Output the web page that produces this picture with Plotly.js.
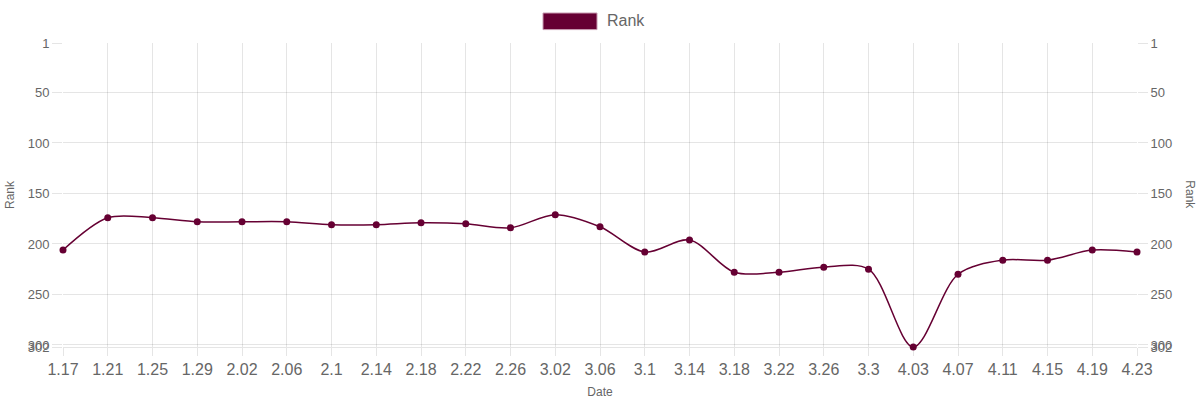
<!DOCTYPE html>
<html>
<head>
<meta charset="utf-8">
<script src="https://cdn.plot.ly/plotly-3.0.1.min.js"></script>
<style>html,body{margin:0;padding:0;background:#fff;}#chart{width:1200px;height:400px;}</style>
</head>
<body>
<div id="chart"></div>
<script>
const dates = ["1.17","1.21","1.25","1.29","2.02","2.06","2.1","2.14","2.18","2.22","2.26","3.02","3.06","3.1","3.14","3.18","3.22","3.26","3.3","4.03","4.07","4.11","4.15","4.19","4.23"];
const ranks = [206,174,174,178,178,178,181,181,179,180,184,171,183,208,196,228,228,223,225,302,230,216,216,206,208];
const rankTicks = [1,50,100,150,200,250,300,302];
const seriesName = "Rank";
const xTitle = "Date";
const yTitle = "Rank";

const lineColor = "#660033";
const fam = "Liberation Sans, Arial, sans-serif";
const tickFont = {family: fam, size: 13, color: "#666"};
const gridColor = "rgba(0,0,0,0.1)";

const trace = {
  x: dates, y: ranks, type: "scatter", mode: "lines+markers", name: seriesName,
  line: {color: lineColor, width: 1.5, shape: "spline", smoothing: 0.9},
  marker: {color: lineColor, size: 7},
  cliponaxis: false, showlegend: false
};
const trace2 = {
  x: dates, y: ranks, type: "scatter", mode: "lines", yaxis: "y2",
  line: {color: "rgba(0,0,0,0)", width: 0}, hoverinfo: "skip", showlegend: false
};

const yCommon = {
  range: [302, 1], tickvals: rankTicks, ticktext: rankTicks.map(String),
  showgrid: true, gridcolor: gridColor, gridwidth: 1, zeroline: false,
  ticks: "outside", ticklen: 10, tickcolor: gridColor, tickfont: tickFont,
  showline: false, fixedrange: true
};

const layout = {
  width: 1200, height: 400,
  margin: {l: 63, r: 63, t: 43, b: 53},
  paper_bgcolor: "#fff", plot_bgcolor: "#fff",
  font: {family: fam, color: "#666"},
  showlegend: false,
  xaxis: {
    type: "category", range: [0, dates.length - 1],
    showgrid: true, gridcolor: gridColor, gridwidth: 1, zeroline: false,
    ticks: "outside", ticklen: 8, tickcolor: gridColor,
    tickfont: {family: fam, size: 16, color: "#666"},
    title: {text: xTitle, font: {size: 12, color: "#666"}, standoff: 10},
    showline: true, linecolor: gridColor
  },
  yaxis: Object.assign({}, yCommon, {
    side: "left",
    title: {text: yTitle, font: {size: 12, color: "#666"}, standoff: 10}
  }),
  yaxis2: Object.assign({}, yCommon, {
    side: "right", overlaying: "y", showgrid: false
  }),
  shapes: [{
    type: "rect", xref: "paper", yref: "paper",
    x0: (543 - 63) / 1074, x1: (597 - 63) / 1074,
    y0: (346.7 - 29.3) / 304, y1: (346.7 - 12.7) / 304,
    fillcolor: lineColor, line: {color: "#c79ab0", width: 1}
  }],
  annotations: [{
    xref: "paper", yref: "paper", x: (605 - 63) / 1074, y: (346.7 - 20.5) / 304,
    xanchor: "left", yanchor: "middle", showarrow: false, text: seriesName,
    font: {family: fam, size: 16, color: "#666"}
  }, {
    xref: "paper", yref: "paper", x: (1190 - 63) / 1074, y: (346.7 - 194) / 304,
    xanchor: "center", yanchor: "middle", showarrow: false, text: yTitle,
    textangle: 90, font: {family: fam, size: 12, color: "#666"}
  }]
};

Plotly.newPlot("chart", [trace, trace2], layout, {displayModeBar: false, staticPlot: true});
</script>
</body>
</html>
